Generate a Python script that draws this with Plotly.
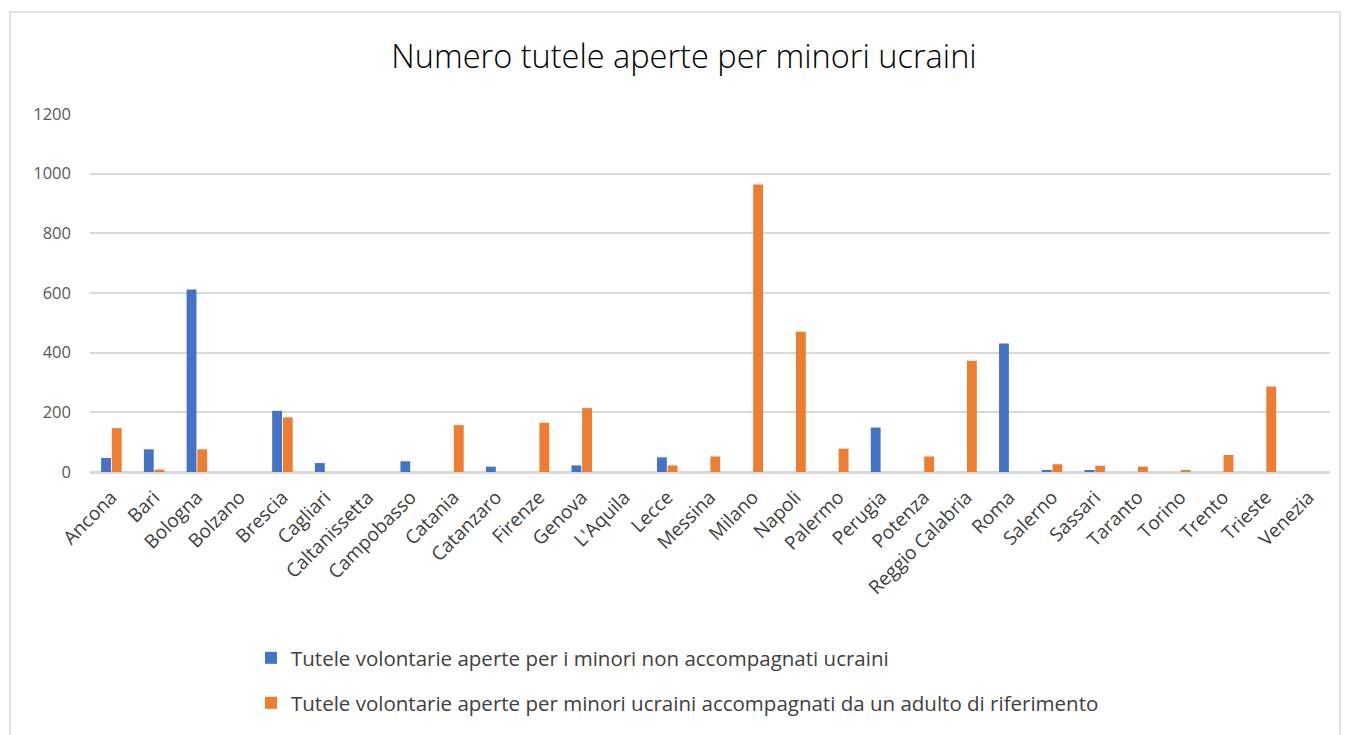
import plotly.graph_objects as go

cities = ["Ancona", "Bari", "Bologna", "Bolzano", "Brescia", "Cagliari", "Caltanissetta",
          "Campobasso", "Catania", "Catanzaro", "Firenze", "Genova", "L'Aquila", "Lecce",
          "Messina", "Milano", "Napoli", "Palermo", "Perugia", "Potenza", "Reggio Calabria",
          "Roma", "Salerno", "Sassari", "Taranto", "Torino", "Trento", "Trieste", "Venezia"]
non_accompagnati = [47, 76, 612, 0, 205, 30, 0, 36, 0, 18, 0, 22, 0, 49, 0, 0, 0, 0,
                    149, 0, 0, 431, 5, 5, 0, 0, 0, 0, 0]
accompagnati = [147, 8, 76, 0, 183, 0, 0, 0, 157, 0, 165, 214, 0, 22, 52, 964, 470, 78,
                0, 52, 373, 0, 26, 21, 18, 5, 57, 287, 0]
name1 = "Tutele volontarie aperte per i minori non accompagnati ucraini"
name2 = "Tutele volontarie aperte per minori ucraini accompagnati da un adulto di riferimento"
title = "Numero tutele aperte per minori ucraini"

W, H = 1349, 735
L, R, T, B = 90, 19, 114, 263
pw, ph = W - L - R, H - T - B

def px(x):
    return (x - L) / pw

def py(y):
    return (H - B - y) / ph

fig = go.Figure()
fig.add_trace(go.Bar(x=cities, y=non_accompagnati, name=name1,
                     marker=dict(color="#4472C4", line=dict(width=0)), legend="legend"))
fig.add_trace(go.Bar(x=cities, y=accompagnati, name=name2,
                     marker=dict(color="#ED7D31", line=dict(width=0)), legend="legend2"))

font_main = "Open Sans"
fig.update_layout(
    width=W, height=H,
    margin=dict(l=L, r=R, t=T, b=B),
    paper_bgcolor="white", plot_bgcolor="white",
    barmode="group", bargap=0.5, bargroupgap=0.08,
    showlegend=True,
    title=dict(text=title, x=684 / W, xanchor="center", y=1 - 57 / H, yanchor="middle",
               font=dict(family=font_main, size=32.5, color="#000000", weight=300)),
    font=dict(family=font_main),
    legend=dict(x=px(251), y=py(658), xanchor="left", yanchor="middle",
                font=dict(size=20.5, color="#404040"), bgcolor="rgba(0,0,0,0)"),
    legend2=dict(x=px(251), y=py(703), xanchor="left", yanchor="middle",
                 font=dict(size=20.5, color="#404040"), bgcolor="rgba(0,0,0,0)"),
    xaxis=dict(tickangle=-45, tickfont=dict(size=19, color="#404040"),
               showgrid=False, showline=True, linecolor="#d9d9d9", linewidth=1.5,
               ticks="", ticklabelstandoff=5),
    yaxis=dict(range=[0, 1200], dtick=200, showgrid=True, gridcolor="#d9d9d9", gridwidth=1.5,
               zeroline=True, zerolinecolor="#d9d9d9", zerolinewidth=1.5,
               tickfont=dict(size=16.5, color="#595959"), ticks="", ticklabelstandoff=18),
    shapes=[dict(type="rect", xref="paper", yref="paper",
                 x0=px(10), x1=px(1340), y0=py(745), y1=py(12),
                 line=dict(color="#d9d9d9", width=1.5), fillcolor="rgba(0,0,0,0)", layer="below")],
)

fig.write_html("out.html", config={"displayModeBar": False})
with open("out.html", "r", encoding="utf-8") as f:
    html = f.read()
html = html.replace("<head>", "<head><style>html,body{margin:0;padding:0;overflow:hidden;}</style>", 1)
with open("out.html", "w", encoding="utf-8") as f:
    f.write(html)
